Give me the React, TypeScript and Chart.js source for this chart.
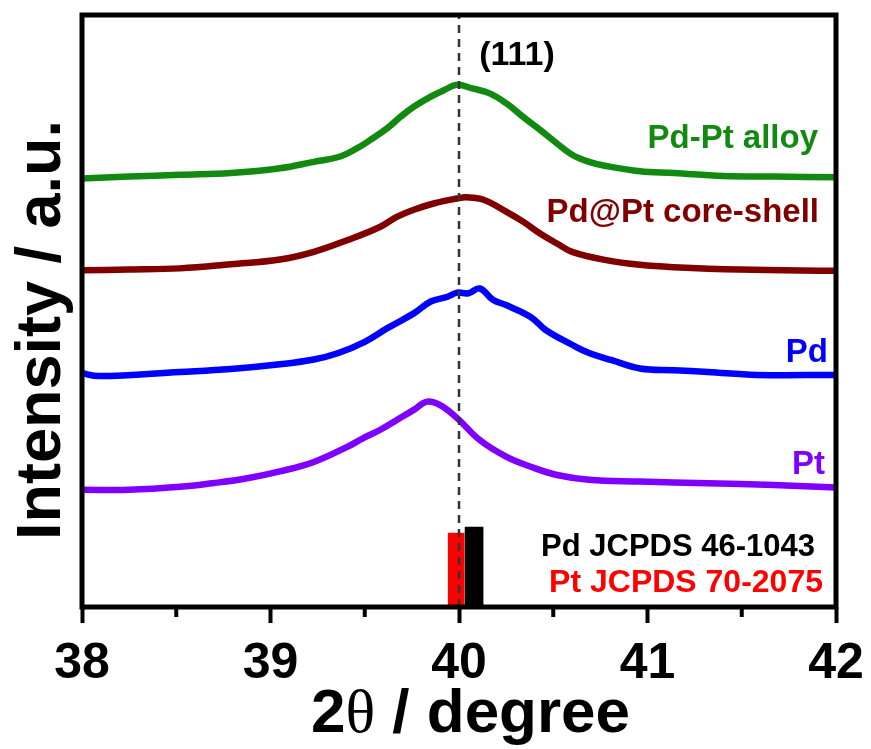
import React, { useEffect, useRef } from 'react';
import { Chart, registerables } from 'chart.js';

Chart.register(...registerables);

// ---- data (intensity in arbitrary units, 0-100 span of the frame) ----
const alloyTheta = [38.0, 38.25, 38.52, 38.79, 39.05, 39.23, 39.37, 39.46, 39.53, 39.62, 39.69, 39.76, 39.85, 39.92, 39.99, 40.07, 40.16, 40.25, 40.34, 40.43, 40.52, 40.6, 40.69, 40.78, 40.96, 41.14, 41.4, 41.67, 42.0];
const alloyIntensity = [72.4, 72.7, 73.0, 73.3, 74.1, 75.2, 76.1, 77.5, 78.9, 80.9, 82.8, 84.5, 86.2, 87.3, 88.2, 87.6, 86.8, 85.1, 82.8, 80.6, 78.3, 76.4, 75.2, 74.5, 73.6, 73.3, 72.8, 72.7, 72.6];

const shellTheta = [38.0, 38.25, 38.52, 38.79, 39.05, 39.23, 39.41, 39.58, 39.67, 39.76, 39.87, 39.99, 40.04, 40.13, 40.25, 40.34, 40.43, 40.52, 40.6, 40.78, 40.96, 41.14, 41.49, 42.0];
const shellIntensity = [56.9, 57.0, 57.2, 57.9, 58.7, 60.0, 62.0, 64.2, 65.9, 67.1, 68.2, 69.0, 69.2, 68.8, 66.8, 65.1, 63.1, 61.4, 60.0, 58.6, 57.8, 57.4, 57.0, 56.8];

const pdTheta = [38.0, 38.09, 38.52, 38.79, 39.05, 39.23, 39.36, 39.5, 39.62, 39.76, 39.85, 39.94, 39.99, 40.05, 40.11, 40.18, 40.25, 40.38, 40.46, 40.6, 40.69, 40.81, 40.96, 41.14, 41.32, 41.58, 42.0];
const pdIntensity = [39.5, 39.0, 39.7, 40.2, 41.0, 41.8, 42.9, 44.8, 47.1, 49.6, 51.6, 52.4, 53.1, 53.0, 53.8, 51.9, 51.0, 49.0, 46.8, 44.3, 42.9, 41.7, 40.3, 40.0, 39.7, 39.2, 39.2];

const ptTheta = [38.0, 38.25, 38.52, 38.69, 38.87, 39.05, 39.23, 39.41, 39.49, 39.58, 39.67, 39.76, 39.83, 39.9, 39.99, 40.11, 40.25, 40.38, 40.52, 40.69, 40.96, 41.32, 41.67, 42.0];
const ptIntensity = [19.8, 19.8, 20.3, 20.9, 21.7, 22.9, 24.5, 27.1, 28.5, 29.9, 31.6, 33.3, 34.7, 34.1, 31.9, 28.2, 25.4, 23.7, 22.3, 21.5, 21.2, 20.9, 20.6, 20.2];

// JCPDS reference (111) lines
const pdRefTheta = [40.08];
const pdRefIntensity = [13.5];
const ptRefTheta = [39.985];
const ptRefIntensity = [12.5];

// (111) guide line
const guideTheta = [40.0, 40.0];
const guideIntensity = [0, 100];

const xMin = 38;
const xMax = 42;
const minorTicks = [38.5, 39.5, 40.5, 41.5];

const seriesNames = ['Pd-Pt alloy', 'Pd@Pt core-shell', 'Pd', 'Pt'];
const refNames = ['Pd JCPDS 46-1043', 'Pt JCPDS 70-2075'];
const peakLabel = '(111)';

const GREEN = '#128a12';
const MAROON = '#800000';
const BLUE = '#0000ff';
const PURPLE = '#8000ff';
const RED = '#ff0000';
const SANS = "'Liberation Sans', Arial, sans-serif";
const SERIF = "'Liberation Serif', 'Times New Roman', serif";

const toPoints = (xs: number[], ys: number[]) => xs.map((x, i) => ({ x, y: ys[i] }));

const decorPlugin = {
  id: 'decor',
  afterDatasetsDraw(chart: any) {
    const { ctx, chartArea: a } = chart;
    const xs = chart.scales.x;
    ctx.save();
    // minor ticks
    ctx.strokeStyle = '#000';
    ctx.lineWidth = 4;
    ctx.lineCap = 'butt';
    for (const v of minorTicks) {
      const px = xs.getPixelForValue(v);
      ctx.beginPath();
      ctx.moveTo(px, a.bottom);
      ctx.lineTo(px, a.bottom + 10);
      ctx.stroke();
    }
    // frame
    ctx.lineWidth = 5;
    ctx.strokeRect(a.left, a.top, a.right - a.left, a.bottom - a.top);

    // labels
    ctx.textBaseline = 'alphabetic';
    ctx.font = `bold 34px ${SANS}`;
    ctx.textAlign = 'center';
    ctx.fillStyle = '#000';
    ctx.fillText(peakLabel, 517, 65);

    ctx.font = `bold 33px ${SANS}`;
    ctx.textAlign = 'right';
    ctx.fillStyle = GREEN;
    ctx.fillText(seriesNames[0], 818, 148);
    ctx.fillStyle = MAROON;
    ctx.fillText(seriesNames[1], 819, 222);
    ctx.fillStyle = BLUE;
    ctx.fillText(seriesNames[2], 828, 362);
    ctx.fillStyle = PURPLE;
    ctx.fillText(seriesNames[3], 825, 474);

    ctx.font = `bold 31px ${SANS}`;
    ctx.fillStyle = '#000';
    ctx.fillText(refNames[0], 815, 556);
    ctx.font = `bold 32px ${SANS}`;
    ctx.fillStyle = RED;
    ctx.fillText(refNames[1], 823, 592);

    // x-axis title: 2θ / degree (θ in serif)
    ctx.fillStyle = '#000';
    const bold = `bold 62px ${SANS}`;
    const serif = `62px ${SERIF}`;
    const parts: [string, string][] = [['2', bold], ['\u03B8', serif], [' / degree', bold]];
    let total = 0;
    for (const [t, f] of parts) { ctx.font = f; total += ctx.measureText(t).width; }
    let cx = 470.5 - total / 2;
    ctx.textAlign = 'left';
    for (const [t, f] of parts) {
      ctx.font = f;
      ctx.fillText(t, cx, 732);
      cx += ctx.measureText(t).width;
    }

    // y-axis title
    ctx.translate(60, 330);
    ctx.rotate(-Math.PI / 2);
    ctx.textAlign = 'center';
    ctx.font = `bold 63px ${SANS}`;
    ctx.fillText('Intensity / a.u.', 0, 0);
    ctx.restore();
  },
};

export default function App() {
  const canvasRef = useRef<HTMLCanvasElement | null>(null);

  useEffect(() => {
    const canvas = canvasRef.current;
    if (!canvas) return;
    const lineCommon = {
      type: 'line' as const,
      pointRadius: 0,
      borderWidth: 6.5,
      tension: 0.4,
      fill: false,
      order: 2,
    };
    const chart = new Chart(canvas, {
      type: 'line',
      data: {
        datasets: [
          { ...lineCommon, label: seriesNames[0], data: toPoints(alloyTheta, alloyIntensity), borderColor: GREEN },
          { ...lineCommon, label: seriesNames[1], data: toPoints(shellTheta, shellIntensity), borderColor: MAROON },
          { ...lineCommon, label: seriesNames[2], data: toPoints(pdTheta, pdIntensity), borderColor: BLUE },
          { ...lineCommon, label: seriesNames[3], data: toPoints(ptTheta, ptIntensity), borderColor: PURPLE },
          {
            type: 'bar',
            label: refNames[0],
            data: toPoints(pdRefTheta, pdRefIntensity),
            backgroundColor: '#000',
            borderWidth: 0,
            barThickness: 18,
            grouped: false,
            order: 1,
          } as any,
          {
            type: 'bar',
            label: refNames[1],
            data: toPoints(ptRefTheta, ptRefIntensity),
            backgroundColor: RED,
            borderWidth: 0,
            barThickness: 16,
            grouped: false,
            order: 1,
          } as any,
          {
            type: 'line',
            label: '(111)',
            data: toPoints(guideTheta, guideIntensity),
            borderColor: '#333333',
            borderWidth: 2.5,
            borderDash: [8, 6],
            pointRadius: 0,
            order: 0,
          },
        ],
      },
      options: {
        animation: false,
        responsive: true,
        maintainAspectRatio: false,
        layout: { padding: { left: 82, right: 35, top: 15, bottom: 44 } },
        plugins: { legend: { display: false }, tooltip: { enabled: false } },
        scales: {
          x: {
            type: 'linear',
            min: xMin,
            max: xMax,
            offset: false,
            border: { display: false },
            afterFit: (s: any) => { s.paddingLeft = 0; s.paddingRight = 0; },
            grid: {
              offset: false,
              display: true,
              drawOnChartArea: false,
              drawTicks: true,
              tickLength: 16,
              tickWidth: 4,
              tickColor: (c: any) => (Number.isInteger(c.tick?.value) ? '#000' : 'rgba(0,0,0,0)'),
            },
            ticks: {
              stepSize: 0.5,
              autoSkip: false,
              maxRotation: 0,
              padding: 16,
              color: '#000',
              font: { family: SANS, size: 50, weight: 'bold', lineHeight: 1 },
              callback: (v: any) => (Number.isInteger(Number(v)) ? String(v) : ''),
            },
          },
          y: {
            type: 'linear',
            display: false,
            min: 0,
            max: 100,
          },
        },
      } as any,
      plugins: [decorPlugin],
    });
    return () => chart.destroy();
  }, []);

  return (
    <div style={{ position: 'fixed', left: 0, top: 0, width: 871, height: 749, background: '#fff' }}>
      <canvas ref={canvasRef} />
    </div>
  );
}
